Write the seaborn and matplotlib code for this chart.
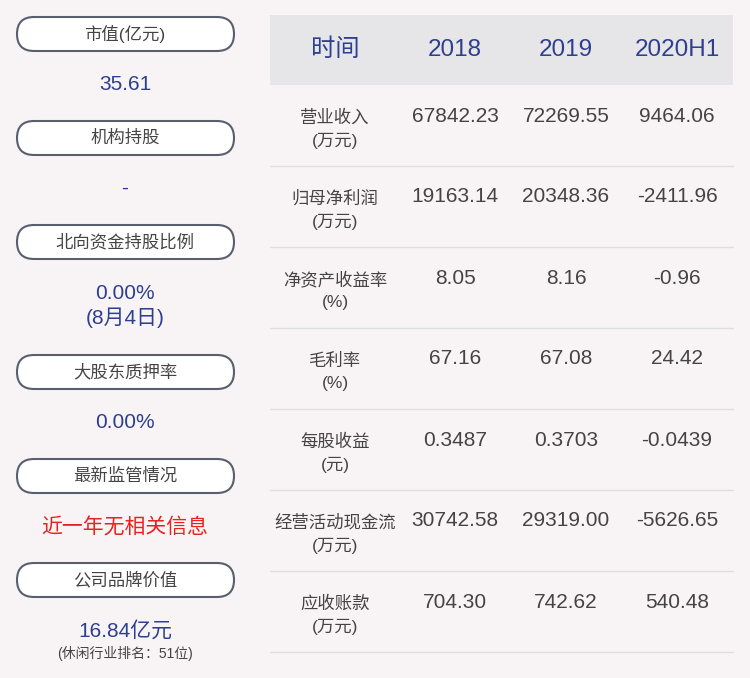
import matplotlib
matplotlib.use("Agg")
import matplotlib.pyplot as plt
from matplotlib.patches import FancyBboxPatch, Rectangle
import seaborn as sns

sns.set_style("white")
plt.rcParams['font.family'] = ['Liberation Sans', 'Noto Sans CJK SC', 'DejaVu Sans']

left_labels = ["市值(亿元)", "机构持股", "北向资金持股比例", "大股东质押率", "最新监管情况", "公司品牌价值"]
left_values = ["35.61", "-", "0.00%\n(8月4日)", "0.00%", "近一年无相关信息", "16.84亿元"]
brand_note = "(休闲行业排名：51位)"
columns = ["时间", "2018", "2019", "2020H1"]
row_labels = ["营业收入\n(万元)", "归母净利润\n(万元)", "净资产收益率\n(%)", "毛利率\n(%)",
              "每股收益\n(元)", "经营活动现金流\n(万元)", "应收账款\n(万元)"]
v2018 = ["67842.23", "19163.14", "8.05", "67.16", "0.3487", "30742.58", "704.30"]
v2019 = ["72269.55", "20348.36", "8.16", "67.08", "0.3703", "29319.00", "742.62"]
v2020 = ["9464.06", "-2411.96", "-0.96", "24.42", "-0.0439", "-5626.65", "540.48"]

BG = "#f8f4f6"; BLUE = "#2e3f8f"; GREY = "#444444"; RED = "#e8231f"
fig = plt.figure(figsize=(7.5, 6.78), dpi=100, facecolor=BG)
ax = fig.add_axes([0, 0, 1, 1]); ax.set_facecolor(BG)
ax.set_xlim(0, 750); ax.set_ylim(678, 0); ax.axis("off")

box_y = [34, 138, 242, 372, 476, 580]
val_y = [85, 188, 306, 423, 527, 631]
for i, (lab, val) in enumerate(zip(left_labels, left_values)):
    y = box_y[i]
    ax.add_patch(FancyBboxPatch((17, y - 17), 217, 34, boxstyle="round,pad=0,rounding_size=17",
                                fc="white", ec="#5a5f6e", lw=1.5))
    ax.text(125, y, lab, ha="center", va="center", fontsize=12.5, color=GREY)
    col = RED if i == 4 else BLUE
    ax.text(125, val_y[i], val, ha="center", va="center", fontsize=15, color=col, linespacing=1.25)
ax.text(125, 653, brand_note, ha="center", va="center", fontsize=10, color=GREY)

ax.add_patch(Rectangle((270, 15), 463, 70, fc="#e6e6e8", ec="none"))
col_x = [335, 455, 566, 677]
for x, c in zip(col_x, columns):
    ax.text(x, 50, c, ha="center", va="center", fontsize=17.5, color=BLUE)
for i, lab in enumerate(row_labels):
    top = 85 + 81 * i
    ax.text(335, top + 44, lab, ha="center", va="center", fontsize=12.5, color=GREY, linespacing=1.55)
    for x, v in zip(col_x[1:], (v2018[i], v2019[i], v2020[i])):
        ax.text(x, top + 31, v, ha="center", va="center", fontsize=15, color=GREY)
    ax.plot([270, 733], [top + 81, top + 81], color="#dedede", lw=1)

fig.savefig("out.png", dpi=100, facecolor=BG)
